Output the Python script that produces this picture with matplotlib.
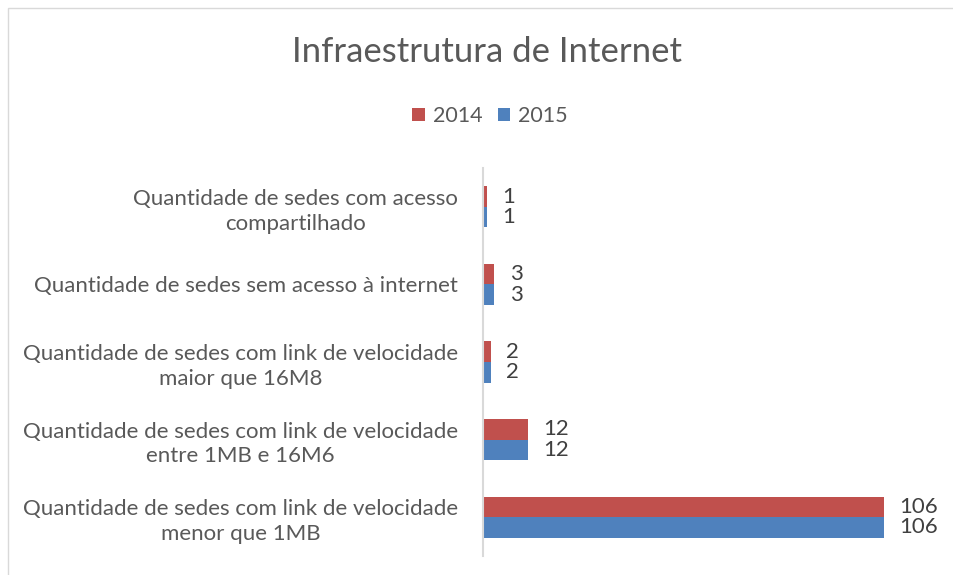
import matplotlib.pyplot as plt
from matplotlib.patches import Rectangle
import numpy as np

plt.rcParams["font.family"] = ["Lato", "DejaVu Sans"]

# categories listed top to bottom, as in the chart
categorias = [
    "Quantidade de sedes com acesso\ncompartilhado",
    "Quantidade de sedes sem acesso à internet",
    "Quantidade de sedes com link de velocidade\nmaior que 16M8",
    "Quantidade de sedes com link de velocidade\nentre 1MB e 16M6",
    "Quantidade de sedes com link de velocidade\nmenor que 1MB",
]
valores_2014 = [1, 3, 2, 12, 106]
valores_2015 = [1, 3, 2, 12, 106]
anos = ["2014", "2015"]

cor_2014 = "#C0504D"
cor_2015 = "#4F81BD"
cinza = "#595959"

fig = plt.figure(figsize=(9.54, 5.75), dpi=100)
ax = fig.add_axes([483 / 954, 1 - 556 / 575, (937 - 483) / 954, (556 - 168) / 575])

y = np.arange(len(categorias))
h = 0.265
b1 = ax.barh(y - h / 2, valores_2014, height=h, color=cor_2014, label=anos[0])
b2 = ax.barh(y + h / 2, valores_2015, height=h, color=cor_2015, label=anos[1])

# data labels
for barras in (b1, b2):
    for r in barras:
        ax.annotate(str(int(r.get_width())), (r.get_width(), r.get_y() + r.get_height() / 2),
                    xytext=(11, 0), textcoords="offset points", va="center", ha="left",
                    fontsize=16, color="#404040")

ax.set_xlim(0, 120)
ax.set_ylim(len(categorias) - 0.5, -0.5)
ax.set_yticks(y)
ax.set_yticklabels(categorias, fontsize=16, color=cinza, linespacing=1.3)
for t in ax.get_yticklabels():
    t.set_multialignment("center")
ax.tick_params(axis="y", length=0, pad=18)
ax.set_xticks([])

for s in ["top", "right", "bottom"]:
    ax.spines[s].set_visible(False)
ax.spines["left"].set_color("#D9D9D9")
ax.spines["left"].set_linewidth(1.5)

fig.text(487 / 954, 1 - 52 / 575, "Infraestrutura de Internet", ha="center", va="center",
         fontsize=25, color=cinza)

fig.legend(handles=[b1, b2], labels=anos, loc="center", bbox_to_anchor=(490 / 954, 1 - 116 / 575),
           ncol=2, frameon=False, fontsize=15.5, handlelength=0.6, handleheight=0.6,
           handletextpad=0.35, columnspacing=0.7, labelcolor=cinza)

# chart area border
fig.patches.append(Rectangle((8 / 954, -0.1), 1.1, 1 - 8 / 575 + 0.1, transform=fig.transFigure,
                             fill=False, edgecolor="#D9D9D9", linewidth=1))

fig.savefig("out.png", dpi=100)
